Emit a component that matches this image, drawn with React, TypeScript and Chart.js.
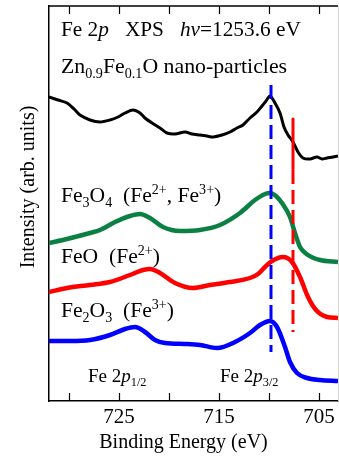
import React, { useEffect, useRef } from "react";
import { Chart, registerables } from "chart.js";

Chart.register(...registerables);

const FONT = '"Liberation Serif", "Times New Roman", serif';

// Binding energy (eV) and intensity (arb. units)
const BLACK_E = [732, 731.1, 730.2, 729.4, 728.9, 727.9, 726.9, 725.9, 725.1, 724.4, 723.6, 722.9, 722.4, 721.7, 720.9, 720.2, 719.4, 718.4, 717.7, 716.9, 716.2, 715.6, 714.7, 713.9, 713.2, 712.6, 711.9, 711.2, 710.7, 710.3, 709.9, 709.4, 708.9, 708.5, 708.1, 707.6, 707.1, 706.6, 705.9, 705.2, 704.7, 704.2, 703.6, 703.1];
const BLACK_I = [304, 301, 298, 291, 286, 281, 279, 281, 284, 288, 291, 288, 283, 278, 273, 268, 267, 269, 267, 266, 265, 264, 266, 269, 273, 276, 283, 289, 295, 300, 305, 298, 288, 274, 266, 259, 249, 243, 242, 244, 242, 243, 244, 245];

const GREEN_E = [732, 730.2, 727.9, 726.9, 725.4, 723.9, 722.9, 721.9, 720.6, 718.9, 716.9, 714.9, 712.9, 711.4, 710.4, 709.9, 709.3, 708.7, 707.9, 707.4, 706.9, 706.1, 704.9, 703.1];
const GREEN_I = [158, 162, 168, 171, 179, 185, 187, 183, 174, 170, 171, 176, 188, 201, 207, 208, 205, 198, 184, 168, 154, 146, 141, 139];

const RED_E = [732, 730.2, 727.9, 725.9, 723.9, 722.6, 721.9, 720.9, 719.4, 717.6, 715.9, 713.9, 711.9, 711.1, 710.4, 709.7, 708.6, 707.7, 706.9, 706.1, 705.3, 704.2, 703.1];
const RED_I = [109, 113, 116, 119, 126, 131, 132, 128, 118, 113, 116, 119, 123, 127, 134, 140, 144, 139, 124, 104, 91, 84, 83];

const BLUE_E = [732, 729.9, 727.9, 725.9, 724.4, 723.4, 722.4, 721.4, 720.4, 718.4, 716.9, 715.2, 713.4, 711.9, 710.9, 709.9, 709.2, 708.4, 707.9, 707.2, 706.2, 704.9, 703.1];
const BLUE_I = [60, 60, 61, 66, 72, 74, 69, 61, 58, 57, 56, 53, 59, 68, 76, 80, 74, 54, 39, 28, 23, 21, 20];

// Marker lines
const BLUE_MARK_E = [709.8, 709.8];
const BLUE_MARK_I = [316, 49];
const RED_SOLID_E = [707.6, 707.6];
const RED_SOLID_I = [282, 232];
const RED_DASH_E = [707.6, 707.6];
const RED_DASH_I = [231, 69];

const X_MIN = 703.1;
const X_MAX = 732;
const Y_MIN = 0;
const Y_MAX = 395;
const TICK_VALUES = [730, 725, 720, 715, 710, 705];
const TICK_LABELED = [725, 715, 705];

const X_TITLE = "Binding Energy (eV)";
const Y_TITLE = "Intensity (arb. units)";

type Run = { t: string; it?: boolean; pos?: "sub" | "sup" };

const HEADER1: Run[] = [{ t: "Fe 2" }, { t: "p", it: true }, { t: "   XPS   " }, { t: "hν", it: true }, { t: "=1253.6 eV" }];
const HEADER2: Run[] = [{ t: "Zn" }, { t: "0.9", pos: "sub" }, { t: "Fe" }, { t: "0.1", pos: "sub" }, { t: "O nano-particles" }];
const LABEL_FE3O4: Run[] = [{ t: "Fe" }, { t: "3", pos: "sub" }, { t: "O" }, { t: "4", pos: "sub" }, { t: "  (Fe" }, { t: "2+", pos: "sup" }, { t: ", Fe" }, { t: "3+", pos: "sup" }, { t: ")" }];
const LABEL_FEO: Run[] = [{ t: "FeO  (Fe" }, { t: "2+", pos: "sup" }, { t: ")" }];
const LABEL_FE2O3: Run[] = [{ t: "Fe" }, { t: "2", pos: "sub" }, { t: "O" }, { t: "3", pos: "sub" }, { t: "  (Fe" }, { t: "3+", pos: "sup" }, { t: ")" }];
const LABEL_P12: Run[] = [{ t: "Fe 2" }, { t: "p", it: true }, { t: "1/2", pos: "sub" }];
const LABEL_P32: Run[] = [{ t: "Fe 2" }, { t: "p", it: true }, { t: "3/2", pos: "sub" }];

function pts(xs: number[], ys: number[]) {
  return xs.map((x, i) => ({ x, y: ys[i] }));
}

function drawRich(ctx: CanvasRenderingContext2D, x: number, y: number, runs: Run[], size: number) {
  let cx = x;
  for (const r of runs) {
    const small = r.pos ? size * 0.65 : size;
    const dy = r.pos === "sub" ? size * 0.22 : r.pos === "sup" ? -size * 0.36 : 0;
    ctx.font = `${r.it ? "italic " : ""}${small}px ${FONT}`;
    ctx.fillText(r.t, cx, y + dy);
    cx += ctx.measureText(r.t).width;
  }
}

const decorPlugin = {
  id: "xpsDecor",
  afterDraw(chart: any) {
    const { ctx, chartArea: a, scales } = chart;
    const xs = scales.x;
    ctx.save();
    ctx.strokeStyle = "#000";
    ctx.lineWidth = 1.5;
    ctx.beginPath();
    ctx.moveTo(a.left, a.top);
    ctx.lineTo(a.right, a.top);
    ctx.stroke();
    ctx.strokeStyle = "#d8d8d8";
    ctx.lineWidth = 1;
    ctx.beginPath();
    ctx.moveTo(a.right + 0.5, a.top);
    ctx.lineTo(a.right + 0.5, a.bottom);
    ctx.stroke();
    ctx.strokeStyle = "#000";
    ctx.lineWidth = 1.2;
    for (const v of TICK_VALUES) {
      const px = Math.round(xs.getPixelForValue(v)) + 0.5;
      ctx.beginPath();
      ctx.moveTo(px, a.top);
      ctx.lineTo(px, a.top + 8);
      ctx.moveTo(px, a.bottom);
      ctx.lineTo(px, a.bottom - 8);
      ctx.stroke();
    }
    ctx.fillStyle = "#000";
    ctx.textAlign = "left";
    ctx.textBaseline = "alphabetic";
    const L = a.left + 12;
    drawRich(ctx, L, 36, HEADER1, 21.3);
    drawRich(ctx, L, 73, HEADER2, 21.8);
    drawRich(ctx, L, 202, LABEL_FE3O4, 21.6);
    drawRich(ctx, L, 263, LABEL_FEO, 21.6);
    drawRich(ctx, L, 317, LABEL_FE2O3, 21.6);
    drawRich(ctx, a.left + 39, 382, LABEL_P12, 19);
    drawRich(ctx, a.left + 171, 382, LABEL_P32, 19);
    // axis titles
    ctx.font = `20px ${FONT}`;
    ctx.textAlign = "center";
    ctx.fillText(X_TITLE, 183.5, 448);
    ctx.save();
    ctx.translate(34, 187);
    ctx.rotate(-Math.PI / 2);
    ctx.fillText(Y_TITLE, 0, 0);
    ctx.restore();
    ctx.restore();
  },
};

export default function App() {
  const ref = useRef<HTMLCanvasElement | null>(null);
  useEffect(() => {
    if (!ref.current) return;
    const line = (data: any, color: string, width: number, smooth: "monotone" | "bezier" | "none", dash: number[] = []) => ({
      data,
      borderColor: color,
      backgroundColor: color,
      borderWidth: width,
      pointRadius: 0,
      tension: smooth === "none" ? 0 : 0.3,
      cubicInterpolationMode: smooth === "monotone" ? "monotone" : "default",
      borderDash: dash,
      borderJoinStyle: "round",
      borderCapStyle: "butt",
      fill: false,
    });
    const chart = new Chart(ref.current, {
      type: "line",
      data: {
        datasets: [
          line(pts(BLUE_MARK_E, BLUE_MARK_I), "#0000ff", 3, "none", [14, 6]),
          line(pts(RED_SOLID_E, RED_SOLID_I), "#ff0000", 3, "none"),
          line(pts(RED_DASH_E, RED_DASH_I), "#ff0000", 3, "none", [14, 6]),
          line(pts(BLACK_E, BLACK_I), "#000000", 3, "bezier"),
          line(pts(GREEN_E, GREEN_I), "#0b8043", 4.5, "monotone"),
          line(pts(RED_E, RED_I), "#ff0000", 4.5, "monotone"),
          line(pts(BLUE_E, BLUE_I), "#0000ff", 4.5, "monotone"),
        ] as any,
      },
      options: {
        animation: false,
        responsive: false,
        devicePixelRatio: 1,
        layout: { padding: { top: 6, right: 1, left: 0, bottom: 0 } },
        plugins: { legend: { display: false }, tooltip: { enabled: false } },
        scales: {
          x: {
            type: "linear",
            reverse: true,
            min: X_MIN,
            max: X_MAX,
            afterBuildTicks: (s: any) => {
              s.ticks = TICK_VALUES.map((v) => ({ value: v }));
            },
            afterFit: (s: any) => {
              s.height = 55;
            },
            grid: { display: false, drawTicks: false, tickLength: 0 },
            border: { display: true, color: "#000", width: 1.5 },
            ticks: {
              autoSkip: false,
              maxRotation: 0,
              padding: 4,
              color: "#000",
              font: { family: FONT, size: 21 },
              callback: (v: any) => (TICK_LABELED.includes(Number(v)) ? String(v) : ""),
            },
          },
          y: {
            type: "linear",
            min: Y_MIN,
            max: Y_MAX,
            afterFit: (s: any) => {
              s.width = 49;
            },
            grid: { display: false, drawTicks: false },
            border: { display: true, color: "#000", width: 1.5 },
            ticks: { display: false },
          },
        },
      },
      plugins: [decorPlugin],
    });
    return () => chart.destroy();
  }, []);
  return (
    <div style={{ position: "fixed", left: 0, top: 0, width: 339, height: 456, background: "#fff" }}>
      <canvas ref={ref} width={339} height={456} style={{ display: "block" }} />
    </div>
  );
}
